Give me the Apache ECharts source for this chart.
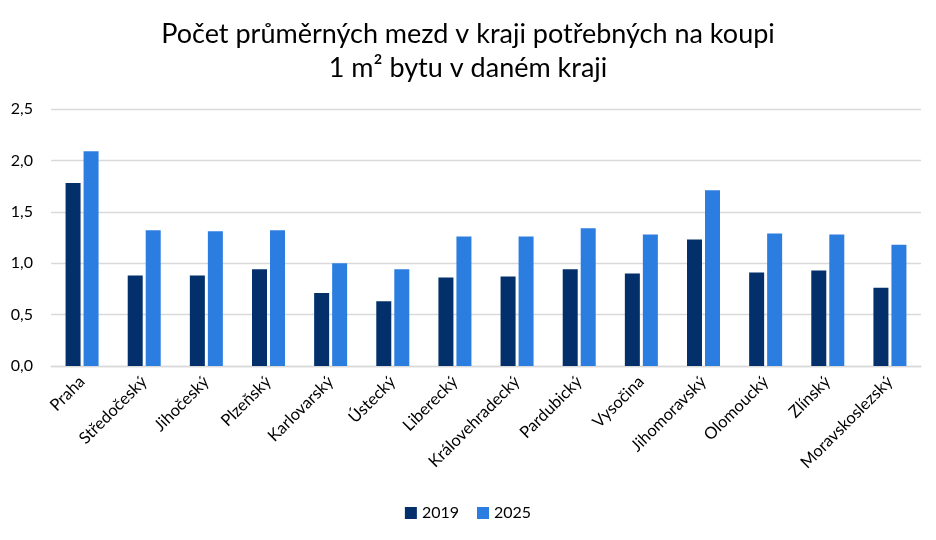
<!DOCTYPE html>
<html>
<head>
<meta charset="utf-8">
<script src="https://cdn.jsdelivr.net/npm/echarts@6/dist/echarts.min.js"></script>
<style>
  html, body { margin: 0; padding: 0; background: #fff; }
  #chart { width: 936px; height: 540px; }
</style>
</head>
<body>
<div id="chart"></div>
<script>
// kraje
const regions = [
  'Praha', 'Středočeský', 'Jihočeský', 'Plzeňský', 'Karlovarský', 'Ústecký',
  'Liberecký', 'Královehradecký', 'Pardubický', 'Vysočina', 'Jihomoravský',
  'Olomoucký', 'Zlínský', 'Moravskoslezský'
];
const values2019 = [1.78, 0.88, 0.88, 0.94, 0.71, 0.63, 0.86, 0.87, 0.94, 0.90, 1.23, 0.91, 0.93, 0.76];
const values2025 = [2.09, 1.32, 1.31, 1.32, 1.00, 0.94, 1.26, 1.26, 1.34, 1.28, 1.71, 1.29, 1.28, 1.18];
const yTicks = [0, 0.5, 1, 1.5, 2, 2.5];

const font = 'Lato, "Open Sans", sans-serif';

const chart = echarts.init(document.getElementById('chart'), null, { renderer: 'canvas' });

chart.setOption({
  backgroundColor: '#fff',
  textStyle: { fontFamily: font },
  title: {
    text: 'Počet průměrných mezd v kraji potřebných na koupi\n1 m² bytu v daném kraji',
    left: 'center',
    top: 12,
    textStyle: {
      fontFamily: font,
      fontSize: 27,
      fontWeight: 'normal',
      color: '#000',
      lineHeight: 34
    }
  },
  legend: {
    data: ['2019', '2025'],
    bottom: 14,
    left: 'center',
    itemWidth: 12,
    itemHeight: 12,
    itemGap: 18,
    icon: 'rect',
    textStyle: { fontFamily: font, fontSize: 16, color: '#000' }
  },
  grid: { left: 51, right: 15, top: 109, bottom: 174 },
  xAxis: {
    type: 'category',
    data: regions,
    axisLine: { lineStyle: { color: '#d9d9d9', width: 1.3 } },
    axisTick: { show: false },
    axisLabel: {
      rotate: 45,
      interval: 0,
      margin: 13,
      fontFamily: font,
      fontSize: 16.5,
      color: '#000'
    }
  },
  yAxis: {
    type: 'value',
    min: yTicks[0],
    max: yTicks[yTicks.length - 1],
    interval: 0.5,
    axisLine: { show: false },
    axisTick: { show: false },
    splitLine: { lineStyle: { color: '#d9d9d9', width: 1.3 } },
    axisLabel: {
      margin: 18,
      fontFamily: font,
      fontSize: 16,
      color: '#000',
      formatter: v => v.toFixed(1).replace('.', ',')
    }
  },
  series: [
    {
      name: '2019',
      type: 'bar',
      data: values2019,
      barWidth: 15,
      barGap: '20%',
      itemStyle: { color: '#03306b' }
    },
    {
      name: '2025',
      type: 'bar',
      data: values2025,
      barWidth: 15,
      itemStyle: { color: '#2c7de0' }
    }
  ]
});
</script>
</body>
</html>
